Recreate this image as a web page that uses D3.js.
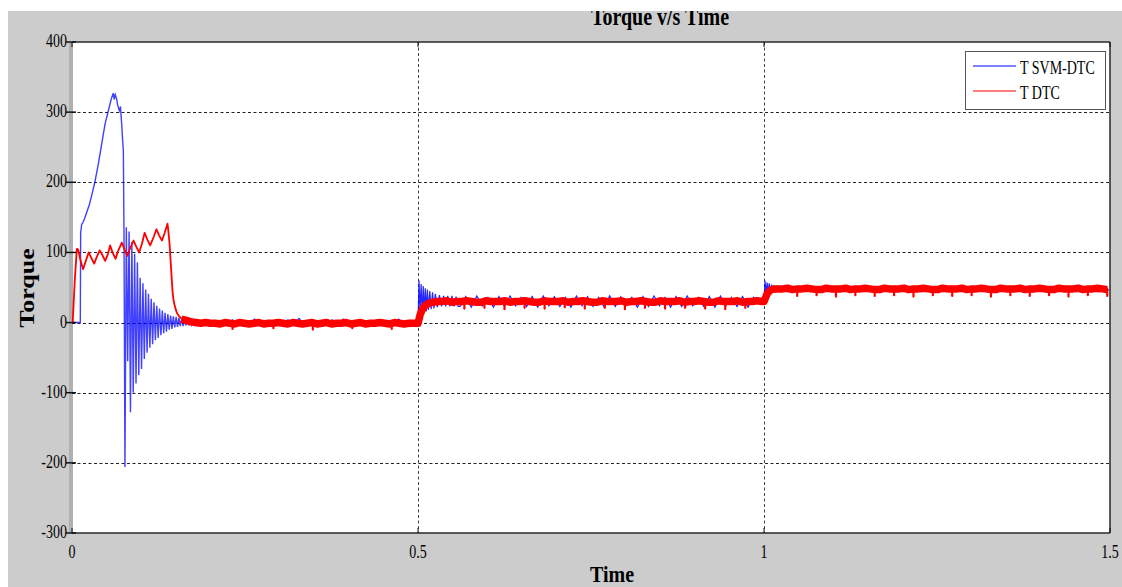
<!DOCTYPE html>
<html><head><meta charset="utf-8">
<script src="https://cdn.jsdelivr.net/npm/d3@7"></script>
<style>html,body{margin:0;padding:0;background:#fff;overflow:hidden}</style>
</head><body>
<svg id="chart" width="1122" height="587"></svg>
<script>
// ---------- data ----------
const chartTitle = "Torque v/s Time";
const xLabel = "Time";
const yLabel = "Torque";
const seriesNames = ["T SVM-DTC", "T DTC"];
const xTicks = [0, 0.5, 1, 1.5];
const xTickLabels = ["0", "0.5", "1", "1.5"];
const yTicks = [-300, -200, -100, 0, 100, 200, 300, 400];
const yTickLabels = ["-300", "-200", "-100", "0", "100", "200", "300", "400"];
const xGrid = [0.5, 1];
const yGrid = [-200, -100, 0, 100, 200, 300];

// T SVM-DTC : start-up rise and collapse (explicit sample times)
const blueT0 = [0, 0.0120, 0.0125, 0.0140, 0.0160, 0.0180, 0.0212, 0.0250, 0.0284, 0.0330, 0.0380, 0.0430, 0.0477, 0.0525, 0.0550, 0.0574, 0.0597, 0.0610, 0.0625, 0.0645, 0.0660, 0.0684, 0.0700, 0.0718, 0.0730, 0.0742, 0.0752, 0.0765];
const blueV0 = [0, 0, 128, 140, 143, 148, 157, 168, 181, 200, 226, 255, 283, 302, 312, 321, 327, 318, 325, 319, 310, 302, 308, 283, 262, 245, 120, -206];
// T SVM-DTC : decaying oscillation (sample interval 0.002 s)
const blueOscStart = 0.0785, blueOscStep = 0.002;
const blueOsc = [136,-55,130,-128,115,-100,98,-87,86,-75,64,-66,56,-52,47,-43,41,-36,34,-31,29,-25,24,-22,20,-18,17,-15,14,-13,12,-10,10,-9,9,-7,8,-6,7,-5,6,-5,5,-4,5,-4,4,-3,4,-3,3,-3,3,-2,2,-2,2,-2,2,-1,1];
// T SVM-DTC : ripple 0.2 .. 0.5 s (sample interval 0.008 s)
const blueS1Start = 0.2, blueStep = 0.008;
const blueS1 = [1,-3,3,-2,4,-4,2,-3,5,-2,3,-4,2,-3,4,-2,6,-3,2,-4,3,-2,4,-3,5,-2,3,-4,2,-3,4,-2,3,-3,5,-2,3,-1];
// T SVM-DTC : load step at 0.5 s
const blueT1 = [0.500,0.5015,0.503,0.5045,0.506,0.5075,0.509,0.5105,0.512,0.5135,0.515,0.517,0.519,0.521,0.523,0.525,0.528,0.531,0.534,0.537,0.540,0.543,0.546,0.549,0.552,0.555,0.558];
const blueV1 = [0,60,14,55,13,52,15,49,16,47,18,45,19,43,20,41,22,39,23,38,23,38,23,38,23,37,23];
const blueS2Start = 0.561;
const blueS2 = [23,37,22,38,24,36,22,37,23,38,24,36,23,37,22,38,24,37,23,36,22,38,24,37,23,36,22,38,23,37,24,36,22,37,23,38,24,36,22,37,23,38,24,36,23,37,22,38,24,36,23,37,22,36,27];
// T SVM-DTC : load step at 1.0 s
const blueT2 = [1.000,1.0015,1.003,1.0045,1.006,1.0075,1.009,1.011,1.013,1.015,1.017,1.020,1.023,1.026,1.029,1.032];
const blueV2 = [30,60,42,57,43,56,44,54,45,53,45,52,46,51,46,50];
const blueS3Start = 1.035;
const blueS3 = [44,50,45,51,44,50,45,49,44,51,45,50,44,50,45,51,44,49,45,50,44,51,45,50,44,50,45,49,44,51,45,50,44,50,45,51,44,49,45,50,44,51,45,50,44,50,45,49,44,51,45,50,44,50,45,51,44,49,46];

// T DTC : start-up transient (explicit sample times)
const redT0 = [0, 0.001, 0.004, 0.007, 0.009, 0.012, 0.016, 0.020, 0.024, 0.028, 0.032, 0.036, 0.040, 0.044, 0.048, 0.052, 0.055, 0.059, 0.063, 0.067, 0.072, 0.076, 0.080, 0.084, 0.089, 0.093, 0.097, 0.101, 0.105, 0.109, 0.113, 0.118, 0.122, 0.126, 0.130, 0.134, 0.138, 0.1395, 0.141, 0.1425, 0.144, 0.1455, 0.147, 0.149, 0.1515, 0.154, 0.158];
const redV0 = [0, 0, 60, 105, 104, 90, 76, 88, 100, 92, 84, 94, 103, 96, 88, 98, 110, 99, 91, 103, 114, 104, 95, 106, 117, 108, 100, 112, 128, 118, 110, 122, 133, 124, 117, 128, 141, 128, 112, 88, 64, 42, 30, 22, 14, 10, 6];
// T DTC : ripple band (sample interval 0.007 s)
const redS1Start = 0.158, redStep = 0.007;
const redS1 = [5,3,1,0,-1,0,-1,-1,-2,0,-1,-2,0,-1,-2,-1,0,-2,-1,-1,0,-1,-2,0,-1,-2,-1,0,-2,-1,0,-2,-1,-1,0,-2,-1,0,-2,-1,-1,0,-1,-2,0,-1,-2,-1,-1];
const redT1 = [0.500, 0.5015, 0.503, 0.505, 0.507, 0.510, 0.513, 0.517, 0.522, 0.528];
const redV1 = [-1, 5, 11, 16, 20, 24, 26, 28, 29, 30];
const redS2Start = 0.535;
const redS2 = [30,31,29,30,30,31,30,29,29,31,30,30,30,31,29,30,30,31,30,29,29,31,30,30,30,31,29,30,30,31,30,29,29,31,30,30,30,31,29,30,30,31,30,29,29,31,30,30,30,31,29,30,30,31,30,29,29,31,30,30,30,31,29,30,30,31,30];
const redT2 = [1.000, 1.002, 1.004, 1.006, 1.008, 1.011, 1.015, 1.020];
const redV2 = [30, 35, 40, 43, 45, 47, 48, 48];
const redS3Start = 1.027;
const redS3 = [48,49,47,48,48,49,48,47,47,49,48,48,48,49,47,48,48,49,48,47,47,49,48,48,48,49,47,48,48,49,48,47,47,49,48,48,48,49,47,48,48,49,48,47,47,49,48,48,48,49,47,48,48,49,48,47,47,49,48,48,48,49,47,48,48,49,48,47];
// T DTC : short downward spikes (time, band level, spike value)
const redDipT = [0.232, 0.291, 0.348, 0.405, 0.462, 0.567, 0.596, 0.625, 0.654, 0.683, 0.712, 0.741, 0.770, 0.799, 0.828, 0.857, 0.886, 0.915, 0.944, 0.973,
  1.048, 1.076, 1.104, 1.132, 1.160, 1.188, 1.216, 1.244, 1.272, 1.300, 1.328, 1.356, 1.384, 1.412, 1.440, 1.468, 1.496];
const redDipBase = [-1, -1, -1, -1, -1, 30, 30, 30, 30, 30, 30, 30, 30, 30, 30, 30, 30, 30, 30, 30,
  48, 48, 48, 48, 48, 48, 48, 48, 48, 48, 48, 48, 48, 48, 48, 48, 48];
const redDipV = [-9, -8, -10, -8, -9, 20, 21, 19, 21, 20, 22, 20, 21, 19, 21, 20, 21, 20, 19, 21,
  38, 39, 37, 39, 38, 39, 37, 39, 38, 39, 37, 39, 38, 39, 37, 39, 38];

const seriesColors = ["#0000ff", "#ff0000"];

// ---------- helpers ----------
const pairs = (ts, vs) => ts.map((t, i) => [t, vs[i]]);
const sampled = (start, step, vs) => vs.map((v, i) => [start + i * step, v]);

const blueTrans = [].concat(pairs(blueT0, blueV0), sampled(blueOscStart, blueOscStep, blueOsc));
const blueRest = [].concat(
  sampled(blueS1Start, blueStep, blueS1),
  pairs(blueT1, blueV1), sampled(blueS2Start, blueStep, blueS2),
  pairs(blueT2, blueV2), sampled(blueS3Start, blueStep, blueS3));
const redThin = pairs(redT0, redV0);
const redThick = [].concat(
  sampled(redS1Start, redStep, redS1), pairs(redT1, redV1),
  sampled(redS2Start, redStep, redS2), pairs(redT2, redV2),
  sampled(redS3Start, redStep, redS3));
const redDips = redDipT.map((t, i) => ({ t, b: redDipBase[i], v: redDipV[i] }));

// ---------- drawing ----------
const W = 1122, H = 587;
const L = 72, R = 1110, T = 42, B = 533;
const FONT = "'Liberation Serif','Times New Roman',serif";
const SY = 1.3;

const svg = d3.select("#chart");
const defs = svg.append("defs");
defs.append("clipPath").attr("id", "fig").append("rect").attr("x", 8).attr("y", 11).attr("width", W - 8).attr("height", H - 11);
defs.append("clipPath").attr("id", "plot").append("rect").attr("x", L - 1).attr("y", T).attr("width", R - L + 1).attr("height", B - T);

const fig = svg.append("g").attr("clip-path", "url(#fig)");
fig.append("rect").attr("x", 8).attr("y", 11).attr("width", W - 8).attr("height", H - 11).attr("fill", "#cccccc");

const x = d3.scaleLinear().domain([0, 1.5]).range([L, R]);
const y = d3.scaleLinear().domain([-300, 400]).range([B, T]);

function label(parent, px, py, s, size, weight, anchor, rot, sy) {
  const k = sy || SY;
  const g = parent.append("g").attr("transform", rot ? `translate(${px},${py}) rotate(-90) scale(${k},1)` : `translate(${px},${py}) scale(1,${k})`);
  g.append("text").attr("x", 0).attr("y", 0).attr("text-anchor", anchor)
    .attr("font-family", FONT).attr("font-size", size).attr("font-weight", weight)
    .attr("fill", "#000").text(s);
}

// plot area
fig.append("rect").attr("x", L).attr("y", T).attr("width", R - L).attr("height", B - T).attr("fill", "#fff");
fig.append("rect").attr("x", 69).attr("y", T).attr("width", 4).attr("height", B - T).attr("fill", "#b0b0b0");

// grid
const grid = fig.append("g").attr("stroke", "#222").attr("stroke-width", 1).attr("stroke-dasharray", "3,2.5");
grid.selectAll(".gy").data(yGrid).join("line").attr("x1", L).attr("x2", R).attr("y1", d => Math.round(y(d)) + 0.5).attr("y2", d => Math.round(y(d)) + 0.5);
grid.selectAll(".gx").data(xGrid).join("line").attr("y1", T).attr("y2", B).attr("x1", d => Math.round(x(d)) + 0.5).attr("x2", d => Math.round(x(d)) + 0.5).attr("stroke", "#444");

// curves
const line = d3.line().x(d => x(d[0])).y(d => y(d[1]));
const curves = fig.append("g").attr("clip-path", "url(#plot)");
curves.append("path").datum(blueTrans).attr("d", line).attr("fill", "none").attr("stroke", seriesColors[0]).attr("stroke-width", 1.4).attr("stroke-opacity", 0.75);
curves.append("path").datum(blueRest).attr("d", line).attr("fill", "none").attr("stroke", seriesColors[0]).attr("stroke-width", 1.2).attr("stroke-opacity", 0.85);
curves.append("path").datum(redThin).attr("d", line).attr("fill", "none").attr("stroke", seriesColors[1]).attr("stroke-width", 1.8).attr("stroke-linejoin", "round");
curves.append("path").datum(redThick).attr("d", line).attr("fill", "none").attr("stroke", seriesColors[1]).attr("stroke-width", 7.5).attr("stroke-linejoin", "round");
curves.selectAll("line.dip").data(redDips).join("line").attr("class", "dip")
  .attr("x1", d => x(d.t)).attr("x2", d => x(d.t)).attr("y1", d => y(d.b)).attr("y2", d => y(d.v))
  .attr("stroke", seriesColors[1]).attr("stroke-width", 2.2).attr("stroke-linecap", "round");

// axes box
const box = fig.append("g").attr("stroke", "#2a2a2a").attr("stroke-width", 1.5).attr("fill", "none");
box.append("line").attr("x1", L).attr("x2", R).attr("y1", T).attr("y2", T);
box.append("line").attr("x1", L).attr("x2", R).attr("y1", B).attr("y2", B);
box.append("line").attr("x1", R).attr("x2", R).attr("y1", T).attr("y2", B);

// y axis ticks + labels
const yAxis = fig.append("g");
yAxis.selectAll("line").data(yTicks).join("line").attr("x1", 66).attr("x2", 76)
  .attr("y1", d => y(d)).attr("y2", d => y(d)).attr("stroke", "#111").attr("stroke-width", 1.5);
yTicks.forEach((v, i) => label(yAxis, 67, y(v) + 5, yTickLabels[i], 14, "normal", "end", false));

// x axis ticks + labels
const xAxis = fig.append("g");
xAxis.selectAll("line.b").data(xTicks).join("line").attr("y1", B - 5).attr("y2", B)
  .attr("x1", d => x(d)).attr("x2", d => x(d)).attr("stroke", "#111").attr("stroke-width", 1);
xAxis.selectAll("line.t").data(xTicks).join("line").attr("y1", T).attr("y2", T + 5)
  .attr("x1", d => x(d)).attr("x2", d => x(d)).attr("stroke", "#111").attr("stroke-width", 1);
xTicks.forEach((v, i) => label(xAxis, x(v), 558, xTickLabels[i], 14, "normal", "middle", false));

// titles
label(fig, 660, 25, chartTitle, 20, "bold", "middle", false);
label(fig, 612, 582, xLabel, 20, "bold", "middle", false, 1.2);
label(fig, 34, 288, yLabel, 20, "bold", "middle", true);

// legend
const lg = fig.append("g");
lg.append("rect").attr("x", 965.5).attr("y", 51.5).attr("width", 140).attr("height", 58).attr("fill", "#fff").attr("stroke", "#555").attr("stroke-width", 1);
seriesNames.forEach((name, i) => {
  const ly = 66 + i * 25;
  lg.append("line").attr("x1", 973).attr("x2", 1016).attr("y1", ly).attr("y2", ly).attr("stroke", seriesColors[i]).attr("stroke-width", 1.2);
  label(lg, 1020, ly + 8, name, 14, "normal", "start", false);
});
</script>
</body></html>
